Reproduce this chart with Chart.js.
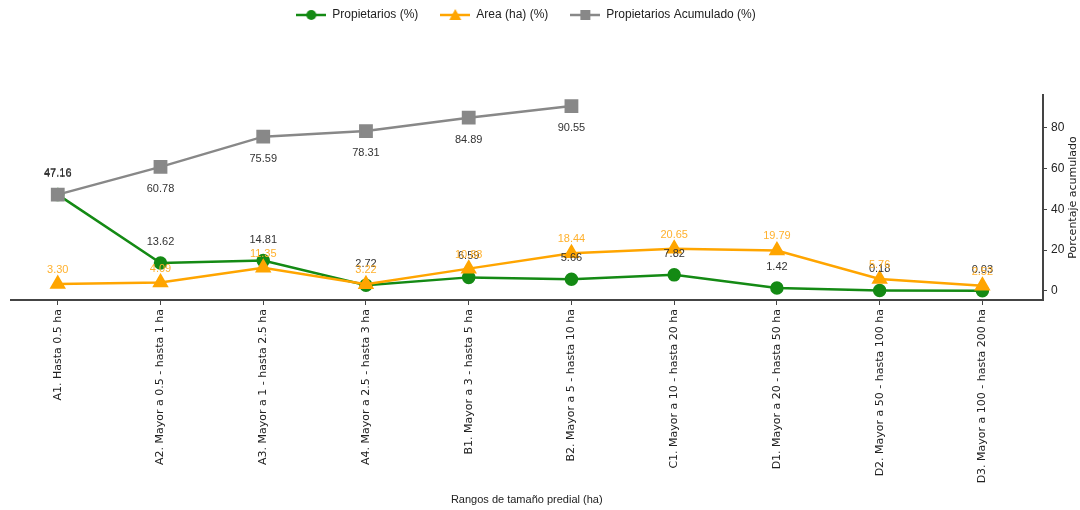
<!DOCTYPE html>
<html>
<head>
<meta charset="utf-8">
<script src="https://cdn.jsdelivr.net/npm/chart.js@4.4.1/dist/chart.umd.min.js"></script>
<style>
  body { margin: 0; background: #fff; }
</style>
</head>
<body>
<canvas id="lineChart" width="1080" height="510"></canvas>
<script>
const CATEGORIAS = [
    'A1. Hasta 0.5 ha',
    'A2. Mayor a 0.5 - hasta 1 ha',
    'A3. Mayor a 1 - hasta 2.5 ha',
    'A4. Mayor a 2.5 - hasta 3 ha',
    'B1. Mayor a 3 - hasta 5 ha',
    'B2. Mayor a 5 - hasta 10 ha',
    'C1. Mayor a 10 - hasta 20 ha',
    'D1. Mayor a 20 - hasta 50 ha',
    'D2. Mayor a 50 - hasta 100 ha',
    'D3. Mayor a 100 - hasta 200 ha'
];
const PROPIETARIOS = [47.16, 13.62, 14.81, 2.72, 6.59, 5.66, 7.82, 1.42, 0.18, 0.03];
const AREA = [3.30, 4.09, 11.35, 3.22, 10.88, 18.44, 20.65, 19.79, 5.76, 2.52];
const ACUMULADO = [47.16, 60.78, 75.59, 78.31, 84.89, 90.55];
const Y_TICKS = [0, 20, 40, 60, 80];

const VERDE = '#148a14';
const NARANJA = '#ffa500';
const GRIS = '#888888';
const NARROW = '"Liberation Sans Narrow", "Liberation Sans", sans-serif';

const LINEA = document.getElementById("lineChart");

function toPoints(arr) {
    return arr.map((v, i) => ({ x: i, y: v }));
}

// small legend symbol: line with marker in the middle
function legendIcon(color, shape) {
    const c = document.createElement('canvas');
    c.width = 30; c.height = 14;
    const ctx = c.getContext('2d');
    ctx.strokeStyle = color;
    ctx.fillStyle = color;
    ctx.lineWidth = 2.5;
    ctx.beginPath(); ctx.moveTo(0, 7); ctx.lineTo(30, 7); ctx.stroke();
    ctx.beginPath();
    if (shape === 'circle') ctx.arc(15, 7, 5, 0, Math.PI * 2);
    if (shape === 'triangle') { ctx.moveTo(15, 1); ctx.lineTo(21, 12); ctx.lineTo(9, 12); ctx.closePath(); }
    if (shape === 'rect') ctx.rect(10, 2, 10, 10);
    ctx.fill();
    return c;
}

const dataLabels = {
    id: 'dataLabels',
    afterDatasetsDraw(chart) {
        const ctx = chart.ctx;
        ctx.save();
        ctx.font = '11px ' + NARROW;
        ctx.textAlign = 'center';
        ctx.textBaseline = 'middle';
        chart.data.datasets.forEach((ds, d) => {
            const meta = chart.getDatasetMeta(d);
            ctx.fillStyle = ds.labelColor;
            meta.data.forEach((pt, i) => {
                let off = ds.labelOffset;
                if (ds.firstAbove && i === 0) off = -Math.abs(off);
                ctx.fillText(ds.data[i].y.toFixed(2), pt.x, pt.y + off);
            });
        });
        ctx.restore();
    }
};

const extras = {
    id: 'extras',
    beforeInit(chart) {
        const fitValue = chart.legend.fit;
        chart.legend.fit = function fit() {
            fitValue.bind(chart.legend)();
            this.height = 95;
        };
    },
    afterLayout(chart) {
        chart.legend.top -= 13;
        chart.legend.right -= 36;
    },
    afterDraw(chart) {
        const ctx = chart.ctx;
        const area = chart.chartArea;
        ctx.save();
        ctx.translate(1073, (area.top + area.bottom) / 2);
        ctx.rotate(-Math.PI / 2);
        ctx.font = '11px "DejaVu Sans"';
        ctx.fillStyle = '#222';
        ctx.textAlign = 'center';
        ctx.textBaseline = 'middle';
        ctx.fillText('Porcentaje acumulado', 0, 0);
        ctx.restore();
    }
};

let lineChart = new Chart(LINEA, {
    type: 'line',
    data: {
        datasets: [{
            label: 'Propietarios (%)',
            data: toPoints(PROPIETARIOS),
            borderColor: VERDE,
            backgroundColor: VERDE,
            pointStyle: 'circle',
            pointRadius: 5.5,
            borderWidth: 2.5,
            labelColor: '#333',
            labelOffset: -21,
            order: 3
        }, {
            label: 'Area (ha) (%)',
            data: toPoints(AREA),
            borderColor: NARANJA,
            backgroundColor: NARANJA,
            pointStyle: 'triangle',
            pointRadius: 7,
            borderWidth: 2.5,
            labelColor: '#ffb12e',
            labelOffset: -14,
            order: 2
        }, {
            label: 'Propietarios Acumulado (%)',
            data: toPoints(ACUMULADO),
            borderColor: GRIS,
            backgroundColor: GRIS,
            pointStyle: 'rect',
            pointRadius: 8,
            borderWidth: 2.5,
            labelColor: '#333',
            labelOffset: 22,
            firstAbove: true,
            order: 1
        }]
    },
    options: {
        responsive: false,
        animation: false,
        layout: { padding: { left: 8, right: 0, top: 0, bottom: 0 } },
        elements: { line: { tension: 0 }, point: { borderWidth: 0 } },
        plugins: {
            tooltip: { enabled: false },
            legend: {
                position: 'top',
                labels: {
                    usePointStyle: true,
                    pointStyleWidth: 30,
                    padding: 22,
                    color: '#222',
                    font: { family: NARROW, size: 12 },
                    generateLabels(chart) {
                        const shapes = ['circle', 'triangle', 'rect'];
                        return chart.data.datasets.map((ds, i) => ({
                            text: ds.label,
                            pointStyle: legendIcon(ds.borderColor, shapes[i]),
                            fillStyle: ds.borderColor,
                            strokeStyle: ds.borderColor,
                            fontColor: '#222',
                            lineWidth: 0,
                            hidden: false,
                            datasetIndex: i
                        }));
                    }
                }
            }
        },
        scales: {
            x: {
                type: 'linear',
                min: -0.46,
                max: 9.59,
                afterFit(scale) { scale.height = 210; },
                border: { display: true, color: '#444', width: 2 },
                grid: { drawOnChartArea: false, drawTicks: true, tickLength: 5, color: '#444' },
                ticks: {
                    stepSize: 1,
                    includeBounds: false,
                    autoSkip: false,
                    minRotation: 90,
                    maxRotation: 90,
                    padding: 4,
                    color: '#222',
                    font: { family: '"DejaVu Sans"', size: 11 },
                    callback: (v) => CATEGORIAS[v] || ''
                },
                title: {
                    display: true,
                    text: 'Rangos de tamaño predial (ha)',
                    color: '#222',
                    font: { family: NARROW, size: 11 },
                    padding: { top: 0, bottom: 3 }
                }
            },
            y: {
                position: 'right',
                min: -4.5,
                max: 96,
                afterFit(scale) { scale.width = 37; },
                afterBuildTicks(scale) { scale.ticks = Y_TICKS.map(v => ({ value: v })); },
                border: { display: true, color: '#444', width: 2 },
                grid: { drawOnChartArea: false, drawTicks: true, tickLength: 4, color: '#444' },
                ticks: {
                    padding: 4,
                    color: '#222',
                    font: { family: NARROW, size: 12 }
                }
            }
        }
    },
    plugins: [dataLabels, extras]
});
</script>
</body>
</html>
